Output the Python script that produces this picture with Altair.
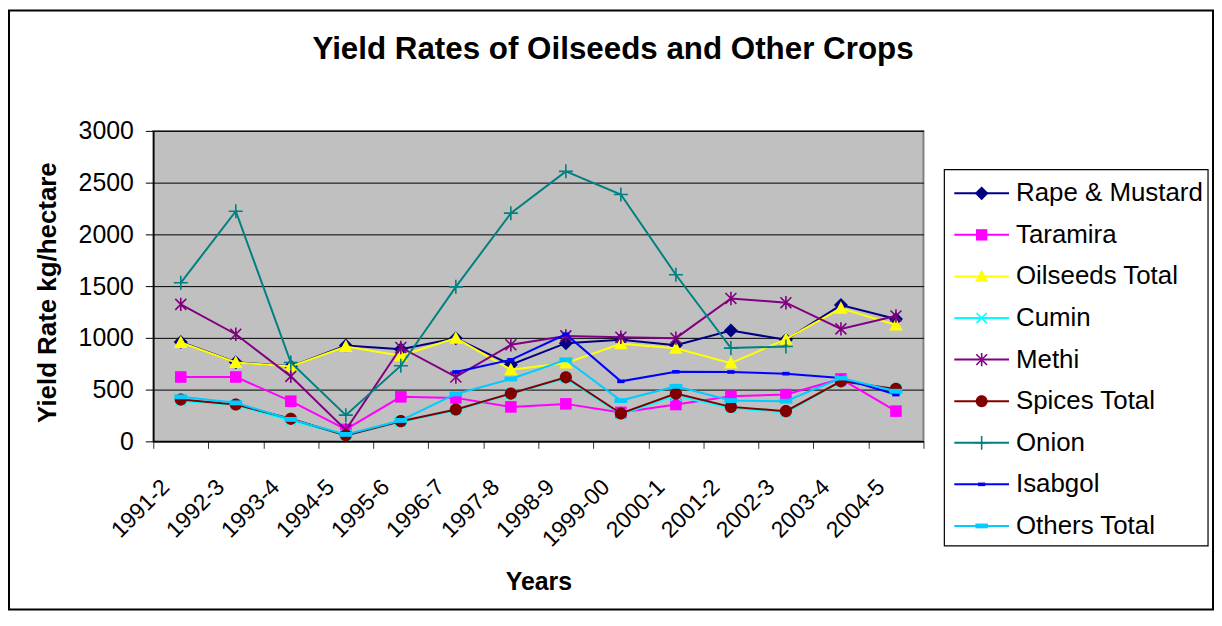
import altair as alt
import pandas as pd

years = ["1991-2", "1992-3", "1993-4", "1994-5", "1995-6", "1996-7", "1997-8",
         "1998-9", "1999-00", "2000-1", "2001-2", "2002-3", "2003-4", "2004-5"]

crops = ["Rape & Mustard", "Taramira", "Oilseeds Total", "Cumin", "Methi",
         "Spices Total", "Onion", "Isabgol", "Others Total"]

rape_mustard = [960, 765, 725, 926, 891, 997, 740, 949, 981, 928, 1071, 981, 1317, 1183]
taramira = [622, 622, 388, 115, 430, 420, 333, 362, 280, 356, 436, 452, 603, 292]
oilseeds_total = [955, 762, 724, 917, 827, 997, 692, 756, 942, 900, 756, 987, 1285, 1125]
cumin = [390, 350, 200, 60, 190, 300, 460, 610, 260, 440, 320, 280, 580, 500]
methi = [1324, 1035, 628, 110, 907, 622, 933, 1019, 1006, 997, 1381, 1340, 1087, 1211]
spices_total = [404, 356, 218, 58, 195, 308, 462, 619, 269, 462, 333, 292, 580, 507]
onion = [1532, 2224, 762, 253, 731, 1493, 2205, 2609, 2385, 1610, 901, 917, None, None]
isabgol = [None, None, None, None, None, 670, 788, 1035, 580, 672, 670, 654, 612, 452]
others_total = [430, 372, 212, 67, 202, 458, 603, 788, 394, 532, 394, 388, 612, 484]

colors = ["#000080", "#FF00FF", "#FFFF00", "#00FFFF", "#800080",
          "#800000", "#008080", "#0000FF", "#00CCFF"]

y_ticks = [0, 500, 1000, 1500, 2000, 2500, 3000]
title_text = "Yield Rates of Oilseeds and Other Crops"

# marker glyphs (unit = sqrt(size)/2 px) and whether they are filled
marker_paths = [
    "M0,-1.15L1.15,0L0,1.15L-1.15,0Z",
    "M-0.95,-0.95H0.95V0.95H-0.95Z",
    "M0,-1.15L1.1,0.9L-1.1,0.9Z",
    "M-0.85,-0.85L0.85,0.85M-0.85,0.85L0.85,-0.85",
    "M-0.9,-0.9L0.9,0.9M-0.9,0.9L0.9,-0.9M0,-1.1V1.1",
    "M-1,0A1,1 0 1,0 1,0A1,1 0 1,0 -1,0Z",
    "M0,-1.15V1.15M-1.15,0H1.15",
    "M-0.6,-0.3H0.6V0.3H-0.6Z",
    "M-1.05,-0.4H1.05V0.4H-1.05Z",
]
marker_filled = [True, True, True, False, False, True, False, True, True]

all_values = [rape_mustard, taramira, oilseeds_total, cumin, methi,
              spices_total, onion, isabgol, others_total]
rows = []
for crop, vals in zip(crops, all_values):
    for yr, v in zip(years, vals):
        if v is not None:
            rows.append({"Year": yr, "Crop": crop, "Yield": v})
df = pd.DataFrame(rows)

leg_df = pd.DataFrame({"Crop": crops,
                       "Filled": ["yes" if f else "no" for f in marker_filled]})

FONT = "Liberation Sans"

x_enc = alt.X(
    "Year:N", sort=years,
    scale=alt.Scale(type="band", domain=years, paddingInner=0, paddingOuter=0),
    axis=alt.Axis(
        title="Years", titleFont=FONT, titleFontSize=25, titleFontWeight="bold",
        titleColor="black", titleX=387, titleY=149, titleBaseline="alphabetic",
        titleAlign="center",
        labelAngle=-45, labelAlign="right", labelBaseline="middle",
        labelFont=FONT, labelFontSize=23, labelColor="black",
        labelPadding=35, labelOffset=-15.5,
        tickBand="extent", tickSize=7, tickColor="#333333", tickWidth=1,
        domainColor="black", domainWidth=1.5, grid=False,
    ),
)
y_enc = alt.Y(
    "Yield:Q",
    scale=alt.Scale(domain=[0, 3000], nice=False),
    axis=alt.Axis(
        values=y_ticks, format="d", title="Yield Rate kg/hectare", titleFont=FONT,
        titleFontSize=26, titleFontWeight="bold", titleColor="black",
        titleAngle=270, titleX=-98, titleY=162, titleBaseline="alphabetic",
        titleAlign="center",
        labelFont=FONT, labelFontSize=25, labelColor="black", labelPadding=12,
        tickSize=8, tickColor="black", tickWidth=1,
        domainColor="black", domainWidth=1.5,
        grid=True, gridColor="black", gridWidth=1, gridOpacity=1,
    ),
)
color_scale = alt.Scale(domain=crops, range=colors)
color_enc = alt.Color("Crop:N", scale=color_scale, legend=None)

base = alt.Chart(df)
layers = []
for i, crop in enumerate(crops):
    sub = base.transform_filter(alt.datum.Crop == crop)
    line = sub.mark_line(strokeWidth=2).encode(x=x_enc, y=y_enc, color=color_enc)
    pts = sub.mark_point(
        shape=marker_paths[i], filled=marker_filled[i], size=150,
        strokeWidth=1.6, opacity=1,
    ).encode(x=x_enc, y=y_enc, color=color_enc)
    layers += [line, pts]
plot_group = alt.layer(*layers)

# ---- legend (rows placed by a point scale over the crop names) ----
leg_y = alt.Y("Crop:N", sort=crops,
              scale=alt.Scale(type="point", domain=crops, range=[62.7, 397], padding=0),
              axis=None)
leg_shape = alt.Shape("Crop:N", scale=alt.Scale(domain=crops, range=marker_paths), legend=None)
leg_base = alt.Chart(leg_df)
leg_box = alt.Chart(alt.Data(values=[{"b": 1}])).mark_rect(
    fill="white", stroke="black", strokeWidth=1.2
).encode(x=alt.value(795), x2=alt.value(1060), y=alt.value(39), y2=alt.value(417))
leg_lines = leg_base.mark_rule(strokeWidth=2).encode(
    y=leg_y, x=alt.value(805), x2=alt.value(860), color=color_enc)
leg_pts_f = leg_base.transform_filter(alt.datum.Filled == "yes").mark_point(
    filled=True, size=144, opacity=1, strokeWidth=1
).encode(y=leg_y, x=alt.value(832.5), color=color_enc, shape=leg_shape)
leg_pts_s = leg_base.transform_filter(alt.datum.Filled == "no").mark_point(
    filled=False, size=144, opacity=1, strokeWidth=1.6
).encode(y=leg_y, x=alt.value(832.5), color=color_enc, shape=leg_shape)
leg_text = leg_base.mark_text(
    font=FONT, fontSize=26, color="black", align="left", baseline="middle"
).encode(y=leg_y, x=alt.value(867), text="Crop:N")
legend_group = alt.layer(leg_box, leg_lines, leg_pts_f, leg_pts_s, leg_text)

title_layer = alt.Chart(alt.Data(values=[{"t": title_text}])).mark_text(
    font=FONT, fontSize=31.5, fontWeight="bold", color="black",
    align="center", baseline="alphabetic",
).encode(text="t:N", x=alt.value(462), y=alt.value(-72))

border_layer = alt.Chart(alt.Data(values=[{"b": 1}])).mark_rect(
    fill="transparent", stroke="black", strokeWidth=2
).encode(x=alt.value(-145), x2=alt.value(1065), y=alt.value(-121), y2=alt.value(481))

chart = alt.layer(plot_group, legend_group, title_layer, border_layer).resolve_scale(
    x="independent", y="independent"
).properties(
    width=774, height=312,
    autosize=alt.AutoSizeParams(type="none"),
    padding={"left": 146, "top": 122, "right": 292, "bottom": 170},
    background="white",
).configure_view(
    fill="#C0C0C0", stroke="#808080", strokeWidth=2
)

chart.save("out.html", embed_options={"renderer": "svg", "actions": False})
